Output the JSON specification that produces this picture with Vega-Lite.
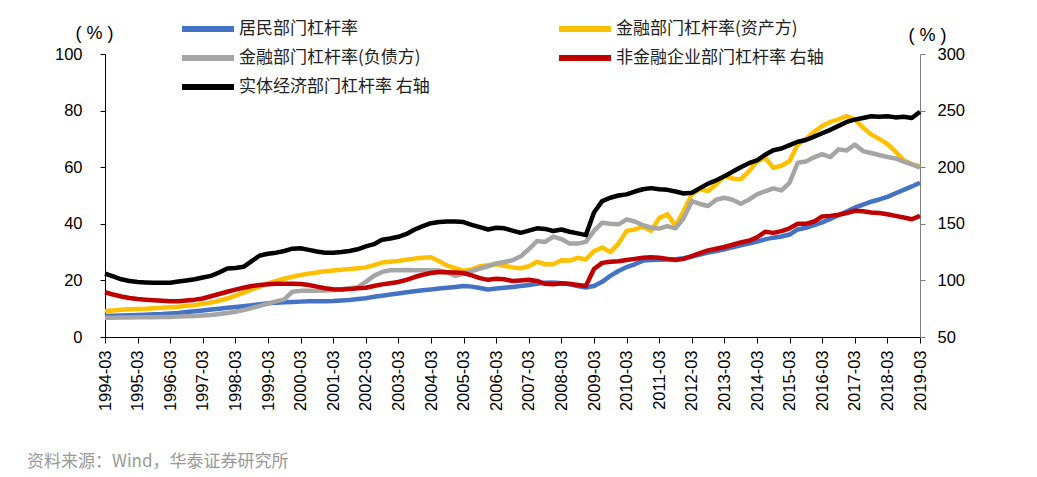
{
  "$schema": "https://vega.github.io/schema/vega-lite/v6.json",
  "width": 815,
  "height": 283,
  "autosize": {"type": "none"},
  "padding": {"left": 105, "top": 54, "right": 117, "bottom": 140},
  "background": "white",
  "title": {
    "text": "资料来源：Wind，华泰证券研究所",
    "orient": "bottom",
    "anchor": "start",
    "frame": "group",
    "dx": -78,
    "offset": 43,
    "font": "Noto Sans CJK SC",
    "fontSize": 17,
    "fontWeight": "normal",
    "color": "#999999"
  },
  "data": {
    "values": [
      {"d": "1994-03", "h": 7.4, "fa": 9.2, "fl": 6.8, "c": 89.5, "r": 106.0},
      {"d": "1994-06", "h": 7.5, "fa": 9.4, "fl": 6.8, "c": 87.5, "r": 103.5},
      {"d": "1994-09", "h": 7.6, "fa": 9.6, "fl": 6.9, "c": 85.8, "r": 101.0},
      {"d": "1994-12", "h": 7.7, "fa": 9.8, "fl": 6.9, "c": 84.5, "r": 99.5},
      {"d": "1995-03", "h": 7.8, "fa": 9.9, "fl": 7.0, "c": 83.6, "r": 98.5},
      {"d": "1995-06", "h": 7.9, "fa": 10.0, "fl": 7.0, "c": 83.0, "r": 98.2},
      {"d": "1995-09", "h": 8.0, "fa": 10.2, "fl": 7.0, "c": 82.5, "r": 98.0},
      {"d": "1995-12", "h": 8.1, "fa": 10.3, "fl": 7.1, "c": 82.0, "r": 98.0},
      {"d": "1996-03", "h": 8.3, "fa": 10.5, "fl": 7.1, "c": 81.5, "r": 98.0},
      {"d": "1996-06", "h": 8.5, "fa": 10.7, "fl": 7.2, "c": 81.5, "r": 99.0},
      {"d": "1996-09", "h": 8.8, "fa": 11.0, "fl": 7.3, "c": 82.2, "r": 100.0},
      {"d": "1996-12", "h": 9.1, "fa": 11.3, "fl": 7.4, "c": 83.0, "r": 101.0},
      {"d": "1997-03", "h": 9.4, "fa": 11.7, "fl": 7.6, "c": 84.0, "r": 102.5},
      {"d": "1997-06", "h": 9.7, "fa": 12.2, "fl": 7.8, "c": 86.0, "r": 104.0},
      {"d": "1997-09", "h": 10.0, "fa": 12.8, "fl": 8.1, "c": 88.0, "r": 107.0},
      {"d": "1997-12", "h": 10.3, "fa": 13.6, "fl": 8.5, "c": 90.0, "r": 110.5},
      {"d": "1998-03", "h": 10.6, "fa": 14.6, "fl": 8.9, "c": 91.8, "r": 111.0},
      {"d": "1998-06", "h": 10.9, "fa": 15.7, "fl": 9.5, "c": 93.5, "r": 112.0},
      {"d": "1998-09", "h": 11.2, "fa": 16.8, "fl": 10.2, "c": 95.0, "r": 117.0},
      {"d": "1998-12", "h": 11.6, "fa": 17.8, "fl": 11.0, "c": 96.0, "r": 122.0},
      {"d": "1999-03", "h": 11.9, "fa": 18.9, "fl": 11.8, "c": 96.5, "r": 123.5},
      {"d": "1999-06", "h": 12.1, "fa": 19.8, "fl": 12.6, "c": 97.0, "r": 124.5},
      {"d": "1999-09", "h": 12.3, "fa": 20.6, "fl": 13.3, "c": 97.0, "r": 126.0},
      {"d": "1999-12", "h": 12.4, "fa": 21.3, "fl": 16.0, "c": 97.0, "r": 128.0},
      {"d": "2000-03", "h": 12.5, "fa": 21.9, "fl": 16.3, "c": 96.8, "r": 128.4},
      {"d": "2000-06", "h": 12.6, "fa": 22.4, "fl": 16.3, "c": 96.0, "r": 127.0},
      {"d": "2000-09", "h": 12.6, "fa": 22.8, "fl": 16.3, "c": 94.5, "r": 125.5},
      {"d": "2000-12", "h": 12.6, "fa": 23.2, "fl": 16.4, "c": 93.0, "r": 124.5},
      {"d": "2001-03", "h": 12.7, "fa": 23.5, "fl": 16.6, "c": 92.2, "r": 124.5},
      {"d": "2001-06", "h": 12.9, "fa": 23.8, "fl": 16.9, "c": 92.0, "r": 125.0},
      {"d": "2001-09", "h": 13.1, "fa": 24.0, "fl": 17.2, "c": 92.3, "r": 126.0},
      {"d": "2001-12", "h": 13.4, "fa": 24.3, "fl": 17.6, "c": 93.0, "r": 127.5},
      {"d": "2002-03", "h": 13.7, "fa": 24.6, "fl": 19.5, "c": 93.5, "r": 130.0},
      {"d": "2002-06", "h": 14.2, "fa": 25.4, "fl": 21.6, "c": 95.0, "r": 132.0},
      {"d": "2002-09", "h": 14.6, "fa": 26.3, "fl": 23.0, "c": 96.5, "r": 136.0},
      {"d": "2002-12", "h": 15.0, "fa": 26.6, "fl": 23.6, "c": 97.5, "r": 137.0},
      {"d": "2003-03", "h": 15.4, "fa": 26.9, "fl": 23.6, "c": 98.6, "r": 138.5},
      {"d": "2003-06", "h": 15.8, "fa": 27.3, "fl": 23.7, "c": 100.5, "r": 141.0},
      {"d": "2003-09", "h": 16.2, "fa": 27.7, "fl": 23.6, "c": 103.0, "r": 145.0},
      {"d": "2003-12", "h": 16.5, "fa": 28.0, "fl": 23.6, "c": 105.0, "r": 148.0},
      {"d": "2004-03", "h": 16.8, "fa": 28.2, "fl": 23.6, "c": 106.5, "r": 150.5},
      {"d": "2004-06", "h": 17.1, "fa": 26.8, "fl": 23.5, "c": 107.5, "r": 151.5},
      {"d": "2004-09", "h": 17.4, "fa": 25.2, "fl": 22.8, "c": 107.3, "r": 152.0},
      {"d": "2004-12", "h": 17.7, "fa": 24.3, "fl": 21.6, "c": 107.0, "r": 152.0},
      {"d": "2005-03", "h": 18.0, "fa": 23.4, "fl": 22.3, "c": 106.5, "r": 151.5},
      {"d": "2005-06", "h": 17.8, "fa": 23.9, "fl": 23.3, "c": 104.5, "r": 149.0},
      {"d": "2005-09", "h": 17.3, "fa": 25.0, "fl": 24.2, "c": 102.0, "r": 147.0},
      {"d": "2005-12", "h": 16.8, "fa": 25.4, "fl": 25.0, "c": 100.5, "r": 145.0},
      {"d": "2006-03", "h": 17.1, "fa": 25.7, "fl": 26.0, "c": 101.5, "r": 146.5},
      {"d": "2006-06", "h": 17.4, "fa": 25.2, "fl": 26.5, "c": 101.0, "r": 146.0},
      {"d": "2006-09", "h": 17.7, "fa": 24.6, "fl": 27.1, "c": 99.5, "r": 144.0},
      {"d": "2006-12", "h": 18.0, "fa": 24.3, "fl": 28.5, "c": 100.0, "r": 142.0},
      {"d": "2007-03", "h": 18.4, "fa": 25.0, "fl": 31.0, "c": 100.5, "r": 144.0},
      {"d": "2007-06", "h": 18.8, "fa": 26.6, "fl": 33.9, "c": 99.5, "r": 146.0},
      {"d": "2007-09", "h": 19.2, "fa": 25.7, "fl": 33.6, "c": 97.0, "r": 145.5},
      {"d": "2007-12", "h": 19.3, "fa": 25.7, "fl": 35.5, "c": 96.5, "r": 143.6},
      {"d": "2008-03", "h": 19.0, "fa": 27.1, "fl": 34.6, "c": 97.5, "r": 145.0},
      {"d": "2008-06", "h": 18.6, "fa": 27.0, "fl": 33.0, "c": 97.0, "r": 143.0},
      {"d": "2008-09", "h": 18.0, "fa": 28.0, "fl": 33.0, "c": 96.0, "r": 141.5},
      {"d": "2008-12", "h": 17.5, "fa": 27.4, "fl": 33.6, "c": 95.0, "r": 140.0},
      {"d": "2009-03", "h": 18.0, "fa": 30.4, "fl": 37.5, "c": 110.0, "r": 160.0},
      {"d": "2009-06", "h": 19.5, "fa": 31.6, "fl": 40.4, "c": 115.5, "r": 170.0},
      {"d": "2009-09", "h": 21.6, "fa": 30.0, "fl": 40.0, "c": 116.5, "r": 173.0},
      {"d": "2009-12", "h": 23.3, "fa": 33.0, "fl": 39.8, "c": 117.0, "r": 175.0},
      {"d": "2010-03", "h": 24.7, "fa": 37.5, "fl": 41.5, "c": 118.0, "r": 176.0},
      {"d": "2010-06", "h": 25.7, "fa": 38.0, "fl": 40.8, "c": 119.0, "r": 178.5},
      {"d": "2010-09", "h": 27.0, "fa": 39.0, "fl": 39.5, "c": 120.0, "r": 180.5},
      {"d": "2010-12", "h": 27.2, "fa": 37.5, "fl": 38.6, "c": 120.5, "r": 181.5},
      {"d": "2011-03", "h": 27.3, "fa": 42.0, "fl": 38.3, "c": 120.0, "r": 180.5},
      {"d": "2011-06", "h": 27.4, "fa": 43.4, "fl": 39.2, "c": 119.0, "r": 180.0},
      {"d": "2011-09", "h": 27.5, "fa": 39.2, "fl": 38.4, "c": 118.0, "r": 178.5},
      {"d": "2011-12", "h": 27.8, "fa": 44.5, "fl": 42.0, "c": 119.0, "r": 176.8},
      {"d": "2012-03", "h": 28.4, "fa": 50.4, "fl": 48.0, "c": 121.5, "r": 177.5},
      {"d": "2012-06", "h": 29.1, "fa": 52.2, "fl": 47.0, "c": 124.0, "r": 181.5},
      {"d": "2012-09", "h": 29.8, "fa": 51.6, "fl": 46.3, "c": 126.5, "r": 185.5},
      {"d": "2012-12", "h": 30.4, "fa": 54.0, "fl": 48.5, "c": 128.0, "r": 188.5},
      {"d": "2013-03", "h": 31.0, "fa": 56.9, "fl": 49.2, "c": 129.5, "r": 192.0},
      {"d": "2013-06", "h": 31.7, "fa": 56.0, "fl": 48.5, "c": 131.5, "r": 196.0},
      {"d": "2013-09", "h": 32.4, "fa": 55.7, "fl": 47.1, "c": 133.5, "r": 200.0},
      {"d": "2013-12", "h": 33.0, "fa": 58.5, "fl": 48.5, "c": 135.0, "r": 203.5},
      {"d": "2014-03", "h": 33.7, "fa": 62.0, "fl": 50.4, "c": 138.0, "r": 206.0},
      {"d": "2014-06", "h": 34.5, "fa": 63.4, "fl": 51.5, "c": 143.0, "r": 211.0},
      {"d": "2014-09", "h": 35.1, "fa": 59.8, "fl": 52.5, "c": 142.0, "r": 215.0},
      {"d": "2014-12", "h": 35.5, "fa": 60.5, "fl": 51.8, "c": 143.5, "r": 216.5},
      {"d": "2015-03", "h": 36.2, "fa": 62.2, "fl": 54.5, "c": 146.0, "r": 219.5},
      {"d": "2015-06", "h": 38.0, "fa": 68.0, "fl": 61.6, "c": 150.0, "r": 222.5},
      {"d": "2015-09", "h": 38.6, "fa": 70.0, "fl": 62.0, "c": 150.0, "r": 224.0},
      {"d": "2015-12", "h": 39.5, "fa": 72.5, "fl": 63.5, "c": 152.0, "r": 227.0},
      {"d": "2016-03", "h": 40.5, "fa": 74.6, "fl": 64.6, "c": 156.5, "r": 230.0},
      {"d": "2016-06", "h": 41.7, "fa": 76.0, "fl": 63.6, "c": 157.0, "r": 233.0},
      {"d": "2016-09", "h": 43.0, "fa": 76.9, "fl": 66.3, "c": 158.0, "r": 236.5},
      {"d": "2016-12", "h": 44.3, "fa": 78.1, "fl": 65.9, "c": 159.5, "r": 240.0},
      {"d": "2017-03", "h": 45.7, "fa": 76.9, "fl": 68.0, "c": 161.5, "r": 242.0},
      {"d": "2017-06", "h": 46.8, "fa": 74.0, "fl": 65.7, "c": 161.0, "r": 243.5},
      {"d": "2017-09", "h": 47.8, "fa": 71.6, "fl": 65.0, "c": 160.0, "r": 245.0},
      {"d": "2017-12", "h": 48.6, "fa": 70.0, "fl": 64.3, "c": 159.5, "r": 244.5},
      {"d": "2018-03", "h": 49.5, "fa": 68.2, "fl": 63.6, "c": 158.5, "r": 245.0},
      {"d": "2018-06", "h": 50.8, "fa": 65.5, "fl": 63.1, "c": 157.0, "r": 244.0},
      {"d": "2018-09", "h": 52.0, "fa": 62.5, "fl": 62.0, "c": 155.5, "r": 244.5},
      {"d": "2018-12", "h": 53.2, "fa": 61.0, "fl": 61.0, "c": 154.0, "r": 243.5},
      {"d": "2019-03", "h": 54.5, "fa": 60.4, "fl": 59.8, "c": 157.0, "r": 249.0}
    ]
  },
  "encoding": {
    "x": {
      "field": "d",
      "type": "ordinal",
      "scale": {"type": "point", "padding": 0},
      "axis": {
        "title": null,
        "values": ["1994-03","1995-03","1996-03","1997-03","1998-03","1999-03","2000-03","2001-03","2002-03","2003-03","2004-03","2005-03","2006-03","2007-03","2008-03","2009-03","2010-03","2011-03","2012-03","2013-03","2014-03","2015-03","2016-03","2017-03","2018-03","2019-03"],
        "labelAngle": 270,
        "labelFont": "Liberation Sans",
        "labelFontSize": 16.5,
        "labelColor": "#000000",
        "labelPadding": 7,
        "labelOverlap": false,
        "tickSize": 6,
        "tickColor": "#000000",
        "domainColor": "#000000",
        "grid": false
      }
    },
    "color": {
      "field": "k",
      "type": "nominal",
      "scale": {
        "domain": ["h", "fl", "r", "fa", "c"],
        "range": ["#4472C4", "#A5A5A5", "#000000", "#FFC000", "#C00000"]
      },
      "legend": {
        "title": null,
        "orient": "none",
        "legendX": 90,
        "legendY": -38,
        "columns": 2,
        "columnPadding": 117,
        "rowPadding": 4,
        "padding": 0,
        "symbolType": "M-2.6,0L2.6,0",
        "symbolSize": 400,
        "symbolStrokeWidth": 6,
        "labelFont": "Noto Sans CJK SC",
        "labelFontSize": 17,
        "labelColor": "#222222",
        "labelLimit": 400,
        "labelOffset": 18,
        "labelExpr": "datum.value == 'h' ? '居民部门杠杆率' : datum.value == 'fa' ? '金融部门杠杆率(资产方)' : datum.value == 'fl' ? '金融部门杠杆率(负债方)' : datum.value == 'c' ? '非金融企业部门杠杆率 右轴' : '实体经济部门杠杆率 右轴'"
      }
    }
  },
  "layer": [
    {
      "transform": [{"fold": ["h", "fa", "fl"], "as": ["k", "v"]}],
      "mark": {"type": "line", "strokeWidth": 4.5, "strokeJoin": "round"},
      "encoding": {
        "y": {
          "field": "v",
          "type": "quantitative",
          "scale": {"domain": [0, 100], "nice": false},
          "axis": {
            "title": "( % )",
            "titleAngle": 0,
            "titleX": -11,
            "titleY": -21,
            "titleAlign": "center",
            "titleBaseline": "middle",
            "titleFont": "Liberation Sans",
            "titleFontSize": 18,
            "titleFontWeight": "normal",
            "titleColor": "#000000",
            "values": [0, 20, 40, 60, 80, 100],
            "labelFont": "Liberation Sans",
            "labelFontSize": 16.5,
            "labelColor": "#000000",
            "labelPadding": 18,
            "tickSize": 5,
            "tickColor": "#000000",
            "domainColor": "#000000",
            "grid": false
          }
        }
      }
    },
    {
      "transform": [{"fold": ["c", "r"], "as": ["k", "v"]}],
      "mark": {"type": "line", "strokeWidth": 4.5, "strokeJoin": "round"},
      "encoding": {
        "y": {
          "field": "v",
          "type": "quantitative",
          "scale": {"domain": [50, 300], "nice": false},
          "axis": {
            "orient": "right",
            "title": "( % )",
            "titleAngle": 0,
            "titleX": 7,
            "titleY": -19,
            "titleAlign": "center",
            "titleBaseline": "middle",
            "titleFont": "Liberation Sans",
            "titleFontSize": 18,
            "titleFontWeight": "normal",
            "titleColor": "#000000",
            "values": [50, 100, 150, 200, 250, 300],
            "labelFont": "Liberation Sans",
            "labelFontSize": 16.5,
            "labelColor": "#000000",
            "labelPadding": 12,
            "tickSize": 5,
            "tickColor": "#808080",
            "domainColor": "#808080",
            "grid": false
          }
        }
      }
    }
  ],
  "resolve": {"scale": {"y": "independent"}},
  "config": {"view": {"stroke": null}}
}
